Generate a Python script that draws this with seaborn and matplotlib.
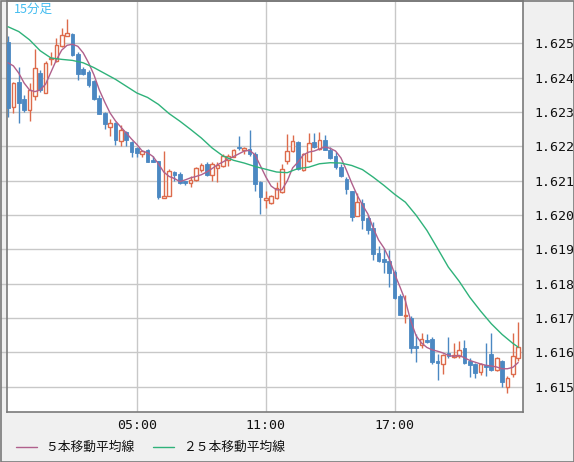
import matplotlib
matplotlib.use("Agg")
import numpy as np
import pandas as pd
import seaborn as sns
import matplotlib.pyplot as plt
from matplotlib.lines import Line2D
from matplotlib.patches import Rectangle

# ---------------- data ----------------
opens = [1.62504, 1.62314, 1.62387, 1.62337, 1.62306, 1.62347, 1.62412, 1.62356, 1.62453, 1.62449,
         1.62492, 1.62521, 1.62528, 1.62468, 1.62424, 1.62416, 1.62389, 1.62341, 1.62297, 1.62256,
         1.62267, 1.62215, 1.62241, 1.62211, 1.62195, 1.62177, 1.62188, 1.62160, 1.62156, 1.62050,
         1.62055, 1.62126, 1.62118, 1.62098, 1.62092, 1.62103, 1.62131, 1.62149, 1.62117, 1.62137,
         1.62141, 1.62160, 1.62170, 1.62197, 1.62188, 1.62193, 1.62178, 1.62096, 1.62044, 1.62034,
         1.62050, 1.62066, 1.62157, 1.62186, 1.62212, 1.62131, 1.62157, 1.62211, 1.62193, 1.62219,
         1.62190, 1.62173, 1.62139, 1.62105, 1.62069, 1.61996, 1.62034, 1.61991, 1.61962, 1.61889,
         1.61873, 1.61866, 1.61834, 1.61764, 1.61705, 1.61701, 1.61618, 1.61621, 1.61636, 1.61640,
         1.61575, 1.61565, 1.61597, 1.61587, 1.61588, 1.61611, 1.61575, 1.61567, 1.61543, 1.61563,
         1.61594, 1.61547, 1.61575, 1.61500, 1.61538, 1.61584]
closes = [1.62311, 1.62384, 1.62326, 1.62307, 1.62363, 1.62429, 1.62363, 1.62443, 1.62456, 1.62496,
          1.62523, 1.62531, 1.62467, 1.62409, 1.62411, 1.62377, 1.62339, 1.62295, 1.62266, 1.62269,
          1.62217, 1.62246, 1.62217, 1.62183, 1.62180, 1.62185, 1.62154, 1.62153, 1.62051, 1.62056,
          1.62129, 1.62117, 1.62093, 1.62092, 1.62103, 1.62138, 1.62146, 1.62115, 1.62149, 1.62146,
          1.62173, 1.62173, 1.62190, 1.62194, 1.62196, 1.62178, 1.62090, 1.62051, 1.62050, 1.62054,
          1.62078, 1.62134, 1.62186, 1.62215, 1.62134, 1.62178, 1.62209, 1.62197, 1.62217, 1.62190,
          1.62167, 1.62139, 1.62112, 1.62076, 1.61995, 1.62039, 1.61986, 1.61956, 1.61886, 1.61866,
          1.61864, 1.61832, 1.61759, 1.61708, 1.61709, 1.61611, 1.61611, 1.61638, 1.61630, 1.61572,
          1.61570, 1.61592, 1.61589, 1.61591, 1.61606, 1.61569, 1.61563, 1.61539, 1.61565, 1.61558,
          1.61547, 1.61582, 1.61512, 1.61524, 1.61589, 1.61616]
highs = [1.62520, 1.62386, 1.62431, 1.62348, 1.62383, 1.62482, 1.62421, 1.62447, 1.62474, 1.62515,
         1.62543, 1.62572, 1.62529, 1.62474, 1.62430, 1.62421, 1.62392, 1.62348, 1.62300, 1.62280,
         1.62270, 1.62261, 1.62244, 1.62214, 1.62198, 1.62188, 1.62192, 1.62173, 1.62156, 1.62185,
         1.62134, 1.62129, 1.62125, 1.62100, 1.62112, 1.62140, 1.62151, 1.62153, 1.62154, 1.62154,
         1.62178, 1.62178, 1.62193, 1.62229, 1.62197, 1.62246, 1.62183, 1.62100, 1.62071, 1.62057,
         1.62096, 1.62149, 1.62235, 1.62232, 1.62215, 1.62181, 1.62238, 1.62238, 1.62241, 1.62232,
         1.62199, 1.62183, 1.62147, 1.62110, 1.62071, 1.62065, 1.62047, 1.62001, 1.61978, 1.61910,
         1.61905, 1.61898, 1.61841, 1.61770, 1.61767, 1.61706, 1.61654, 1.61657, 1.61652, 1.61643,
         1.61594, 1.61594, 1.61645, 1.61628, 1.61633, 1.61635, 1.61584, 1.61570, 1.61570, 1.61626,
         1.61657, 1.61585, 1.61578, 1.61531, 1.61655, 1.61689]
lows = [1.62284, 1.62296, 1.62267, 1.62299, 1.62273, 1.62334, 1.62357, 1.62354, 1.62436, 1.62445,
        1.62488, 1.62520, 1.62462, 1.62392, 1.62407, 1.62372, 1.62336, 1.62293, 1.62251, 1.62229,
        1.62205, 1.62202, 1.62202, 1.62168, 1.62168, 1.62168, 1.62153, 1.62153, 1.62046, 1.62049,
        1.62055, 1.62100, 1.62089, 1.62087, 1.62081, 1.62100, 1.62126, 1.62112, 1.62100, 1.62097,
        1.62139, 1.62142, 1.62168, 1.62188, 1.62178, 1.62173, 1.62071, 1.62003, 1.62021, 1.62032,
        1.62047, 1.62063, 1.62149, 1.62183, 1.62131, 1.62128, 1.62154, 1.62196, 1.62190, 1.62188,
        1.62164, 1.62134, 1.62110, 1.62062, 1.61983, 1.61996, 1.61959, 1.61944, 1.61869, 1.61864,
        1.61832, 1.61791, 1.61756, 1.61708, 1.61686, 1.61597, 1.61572, 1.61613, 1.61628, 1.61567,
        1.61518, 1.61536, 1.61584, 1.61584, 1.61584, 1.61567, 1.61529, 1.61526, 1.61533, 1.61531,
        1.61545, 1.61545, 1.61500, 1.61482, 1.61529, 1.61574]

ma5 = [1.62443, 1.62434, 1.62413, 1.62384, 1.62364, 1.62359, 1.62364, 1.62381, 1.62416, 1.62451,
       1.62480, 1.62494, 1.62497, 1.62491, 1.62472, 1.62443, 1.62408, 1.62364, 1.62329, 1.62297,
       1.62274, 1.62256, 1.62239, 1.62221, 1.62205, 1.62186, 1.62181, 1.62170, 1.62149, 1.62125,
       1.62112, 1.62106, 1.62097, 1.62102, 1.62108, 1.62112, 1.62117, 1.62125, 1.62135, 1.62146,
       1.62154, 1.62163, 1.62170, 1.62178, 1.62186, 1.62188, 1.62175, 1.62143, 1.62111, 1.62084,
       1.62073, 1.62073, 1.62099, 1.62137, 1.62154, 1.62175, 1.62183, 1.62186, 1.62192, 1.62198,
       1.62194, 1.62186, 1.62166, 1.62131, 1.62093, 1.62058, 1.62029, 1.62003, 1.61962, 1.61927,
       1.61904, 1.61872, 1.61828, 1.61790, 1.61750, 1.61691, 1.61648, 1.61627, 1.61614, 1.61607,
       1.61603, 1.61598, 1.61591, 1.61588, 1.61591, 1.61584, 1.61576, 1.61571, 1.61566, 1.61562,
       1.61560, 1.61557, 1.61552, 1.61552, 1.61556, 1.61570]

ma25_idx = [0, 2, 4, 6, 8, 10, 12, 14, 16, 18, 20, 22, 24, 26, 28, 30, 32, 34, 36, 38, 40, 42, 44, 46,
            48, 50, 52, 54, 56, 58, 60, 62, 64, 66, 68, 70, 72, 74, 76, 78, 80, 82, 84, 86, 88, 90,
            92, 94, 95]
ma25 = [1.62548, 1.62534, 1.62510, 1.62478, 1.62457, 1.62453, 1.62450, 1.62443, 1.62429, 1.62412,
        1.62395, 1.62375, 1.62355, 1.62342, 1.62322, 1.62295, 1.62273, 1.62249, 1.62224, 1.62195,
        1.62172, 1.62159, 1.62151, 1.62141, 1.62133, 1.62125, 1.62123, 1.62135, 1.62139, 1.62149,
        1.62152, 1.62151, 1.62144, 1.62132, 1.62110, 1.62086, 1.62060, 1.62037, 1.61999, 1.61955,
        1.61902, 1.61848, 1.61807, 1.61760, 1.61720, 1.61683, 1.61652, 1.61626, 1.61615]

xtick_pos = [24, 48, 72]
xtick_labels = ["05:00", "11:00", "17:00"]
ytick_vals = [1.615, 1.616, 1.617, 1.618, 1.619, 1.620, 1.621, 1.622, 1.623, 1.624, 1.625]
title_text = "15分足"
legend_labels = ["５本移動平均線", "２５本移動平均線"]

# ---------------- style ----------------
sns.set_style("white")
plt.rcParams["font.family"] = ["Noto Sans CJK JP", "DejaVu Sans"]

UP_COL = "#dd6b4c"
DN_COL = "#4b88c2"
MA5_COL = "#b0608c"
MA25_COL = "#2fb27a"
GRID_COL = "#c8c8c8"
SPINE_COL = "#7a7a7a"
BG = "#f0f0f0"

W, H = 574, 462
fig = plt.figure(figsize=(W / 100, H / 100), dpi=100, facecolor=BG)
ax = fig.add_axes([7 / W, 1 - 412 / H, (523 - 7) / W, (412 - 1) / H])
ax.set_facecolor("white")

df = pd.DataFrame({"i": np.arange(len(opens)), "o": opens, "h": highs, "l": lows, "c": closes})
df["up"] = df["c"] >= df["o"]

# grid
for yv in ytick_vals:
    ax.axhline(yv, color=GRID_COL, lw=1, zorder=0)
for xv in xtick_pos:
    ax.axvline(xv, color=GRID_COL, lw=1, zorder=0)

# wicks
ax.vlines(df["i"], df["l"], df["h"], colors=np.where(df["up"], UP_COL, DN_COL), lw=1, zorder=2)

# bodies
bw = 0.68
up = df[df["up"]]
dn = df[~df["up"]]
ax.bar(dn["i"], (dn["o"] - dn["c"]), bottom=dn["c"], width=bw, color=DN_COL,
       edgecolor=DN_COL, linewidth=0.6, zorder=3)
ax.bar(up["i"], (up["c"] - up["o"]), bottom=up["o"], width=bw, color="white",
       edgecolor=UP_COL, linewidth=1.0, zorder=3)

# moving averages
sns.lineplot(x=list(range(len(ma5))), y=ma5, ax=ax, color=MA5_COL, lw=1, zorder=4, estimator=None)
sns.lineplot(x=ma25_idx, y=ma25, ax=ax, color=MA25_COL, lw=1, zorder=4, estimator=None)

ax.set_xlim(-0.19, 95.9)
ax.set_ylim(1.61426, 1.62623)

ax.set_xticks(xtick_pos)
ax.set_xticklabels(xtick_labels)
ax.set_yticks(ytick_vals)
ax.set_yticklabels([f"{v:.3f}" for v in ytick_vals])
ax.yaxis.tick_right()
ax.tick_params(axis="y", which="both", right=False, left=True, labelleft=False, labelright=True,
               length=5, color=GRID_COL, width=1, pad=3)
ax.tick_params(axis="x", length=0, pad=5)
for lab in ax.get_xticklabels() + ax.get_yticklabels():
    lab.set_family("DejaVu Sans Mono")
    lab.set_fontsize(9.5)
    lab.set_color("#111111")
ax.set_xlabel("")
ax.set_ylabel("")
for sp in ax.spines.values():
    sp.set_color(SPINE_COL)
    sp.set_linewidth(1.2)

# title
fig.text(14 / W, 1 - 3 / H, title_text, color="#45bdf0", fontsize=9, ha="left", va="top",
         family=["Noto Sans CJK JP", "DejaVu Sans"])

# legend (manual)
ly = 1 - 447 / H
fig.add_artist(Line2D([16 / W, 37 / W], [ly, ly], color=MA5_COL, lw=1))
fig.text(45 / W, ly, legend_labels[0], fontsize=9.2, ha="left", va="center", color="#111111",
         family=["Noto Sans CJK JP", "DejaVu Sans"])
fig.add_artist(Line2D([153 / W, 174 / W], [ly, ly], color=MA25_COL, lw=1))
fig.text(183 / W, ly, legend_labels[1], fontsize=9.2, ha="left", va="center", color="#111111",
         family=["Noto Sans CJK JP", "DejaVu Sans"])

# outer frame
fig.add_artist(Rectangle((0.5 / W, 0.5 / H), (W - 1) / W, (H - 1) / H, transform=fig.transFigure,
                         fill=False, edgecolor=SPINE_COL, lw=1.2))

fig.savefig("out.png", dpi=100, facecolor=BG)
